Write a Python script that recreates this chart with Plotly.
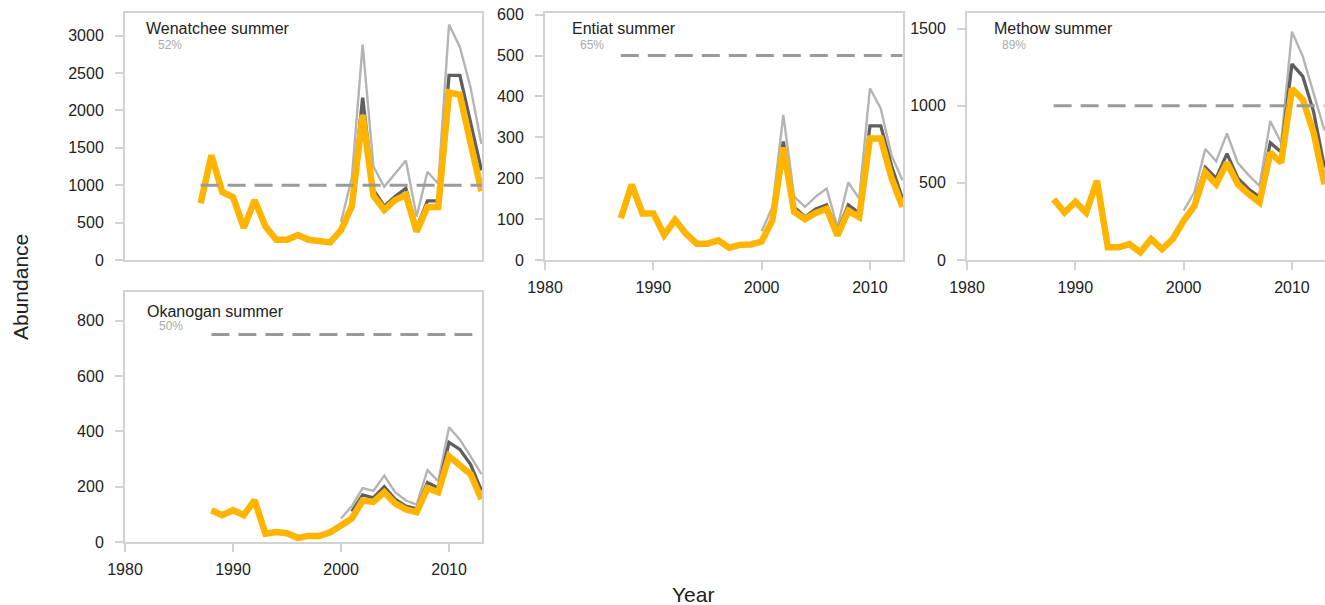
import plotly.graph_objects as go

# ---- data -------------------------------------------------------------
panel_names = ["Wenatchee summer", "Entiat summer", "Methow summer", "Okanogan summer"]
panel_pcts = ["52%", "65%", "89%", "50%"]

# observed abundance (orange), one list per population, with start year
wen_start = 1987
wen_obs = [760, 1400, 910, 840, 430, 800, 450, 270, 270, 335, 270, 260, 235, 400,
           720, 1940, 860, 670, 800, 870, 380, 710, 710, 2240, 2210, 1560, 920]
ent_start = 1987
ent_obs = [102, 184, 114, 114, 61, 98, 65, 40, 40, 48, 30, 37, 38, 45,
           98, 275, 118, 100, 115, 125, 60, 120, 105, 297, 297, 200, 130]
met_start = 1988
met_obs = [394, 308, 377, 308, 513, 82, 82, 103, 50, 136, 71, 136, 254,
           351, 567, 491, 631, 491, 427, 373, 696, 631, 1110, 1040, 825, 491]
oka_start = 1988
oka_obs = [115, 97, 115, 97, 151, 30, 36, 32, 15, 22, 22, 35, 60,
           85, 150, 145, 180, 140, 118, 108, 195, 180, 310, 280, 245, 155]

# adjusted estimate (dark grey), 2001-2013
mid_start = 2001
wen_mid = [780, 2170, 940, 720, 850, 960, 430, 790, 790, 2470, 2470, 1850, 1200]
ent_mid = [110, 290, 130, 105, 125, 135, 70, 135, 115, 328, 328, 230, 150]
met_mid = [380, 600, 530, 690, 530, 460, 410, 760, 700, 1270, 1190, 960, 600]
oka_mid = [110, 170, 160, 200, 155, 130, 120, 215, 195, 360, 335, 280, 185]

# upper estimate (light grey), 2000-2013
up_start = 2000
wen_up = [510, 1100, 2880, 1250, 980, 1150, 1330, 580, 1180, 1020, 3150, 2850, 2300, 1550]
ent_up = [70, 130, 355, 155, 130, 155, 175, 80, 190, 150, 420, 370, 255, 195]
met_up = [320, 440, 720, 640, 820, 630, 550, 480, 900, 760, 1480, 1320, 1080, 840]
oka_up = [85, 130, 195, 185, 240, 180, 150, 135, 260, 220, 415, 370, 310, 245]

# recovery targets and the year each target line starts
targets = [1000, 500, 1000, 750]
target_starts = [1987, 1987, 1988, 1988]

# axis settings
y_max = [3304, 604, 1601, 904]
y_ticks = [list(range(0, 3001, 500)), list(range(0, 601, 100)),
           list(range(0, 1501, 500)), list(range(0, 801, 200))]
x_ticks = [1980, 1990, 2000, 2010]

obs = [(wen_start, wen_obs), (ent_start, ent_obs), (met_start, met_obs), (oka_start, oka_obs)]
mids = [wen_mid, ent_mid, met_mid, oka_mid]
ups = [wen_up, ent_up, met_up, oka_up]

# ---- layout geometry (pixels) ---------------------------------------
W, H = 1325, 605
boxes = [  # left, right, top, bottom
    (125, 482, 13, 260),
    (545, 903, 13, 260),
    (967, 1325, 13, 260),
    (125, 482, 292, 542),
]
title_off = [(19, 29), (25, 29), (25, 29), (20, 311)]
pct_off = [(31, 45), (33, 45), (33, 45), (32, 326)]
show_xlabels = [False, True, True, True]

ORANGE = "#FFB400"
DARK = "#5f5f5f"
LIGHT = "#b4b4b4"
DASH = "#9a9a9a"
AXIS = "#d2d2d2"
FONT = "Liberation Sans, Arial, sans-serif"

fig = go.Figure()


def px_x(p):
    return p / W


def px_y(p):
    return 1 - p / H


for i in range(4):
    n = "" if i == 0 else str(i + 1)
    xa, ya = "x" + n, "y" + n

    up_years = list(range(up_start, up_start + len(ups[i])))
    mid_years = list(range(mid_start, mid_start + len(mids[i])))
    s, o = obs[i]
    obs_years = list(range(s, s + len(o)))

    fig.add_trace(go.Scatter(x=up_years, y=ups[i], mode="lines", xaxis=xa, yaxis=ya,
                             line=dict(color=LIGHT, width=2.4), showlegend=False,
                             hoverinfo="skip"))
    fig.add_trace(go.Scatter(x=mid_years, y=mids[i], mode="lines", xaxis=xa, yaxis=ya,
                             line=dict(color=DARK, width=3.3), showlegend=False,
                             hoverinfo="skip"))
    fig.add_trace(go.Scatter(x=obs_years, y=o, mode="lines", xaxis=xa, yaxis=ya,
                             line=dict(color=ORANGE, width=6.5), showlegend=False,
                             hoverinfo="skip"))
    fig.add_trace(go.Scatter(x=[target_starts[i], 2013], y=[targets[i], targets[i]],
                             mode="lines", xaxis=xa, yaxis=ya,
                             line=dict(color=DASH, width=3, dash="18px,9px"),
                             showlegend=False, hoverinfo="skip"))

    l, r, t, b = boxes[i]
    common = dict(showline=True, linecolor=AXIS, linewidth=2, mirror=True,
                  showgrid=False, zeroline=False, automargin=False,
                  tickfont=dict(family=FONT, size=16, color="#222222"))
    fig.layout["xaxis" + n] = dict(
        domain=[px_x(l), px_x(r)], anchor=ya, range=[1980, 2013.05],
        tickvals=x_ticks if show_xlabels[i] else [],
        ticks="outside" if show_xlabels[i] else "", ticklen=8, tickwidth=2,
        tickcolor=AXIS, showticklabels=show_xlabels[i], ticklabelstandoff=4,
        **common)
    fig.layout["yaxis" + n] = dict(
        domain=[px_y(b), px_y(t)], anchor=xa, range=[0, y_max[i]],
        tickvals=y_ticks[i], ticks="outside", ticklen=8, tickwidth=2,
        tickcolor=AXIS, ticklabelstandoff=8, **common)

    fig.add_annotation(text=panel_names[i], xref="paper", yref="paper",
                       x=px_x(l + title_off[i][0]), y=px_y(title_off[i][1]),
                       xanchor="left", yanchor="middle", showarrow=False,
                       font=dict(family=FONT, size=16, color="#222222"))
    fig.add_annotation(text=panel_pcts[i], xref="paper", yref="paper",
                       x=px_x(l + pct_off[i][0]), y=px_y(pct_off[i][1]),
                       xanchor="left", yanchor="middle", showarrow=False,
                       font=dict(family=FONT, size=12, color="#aaaaaa"))

fig.add_annotation(text="Abundance", xref="paper", yref="paper",
                   x=px_x(20), y=px_y(287), textangle=-90,
                   xanchor="center", yanchor="middle", showarrow=False,
                   font=dict(family=FONT, size=21, color="#222222"))
fig.add_annotation(text="Year", xref="paper", yref="paper",
                   x=px_x(693), y=px_y(594),
                   xanchor="center", yanchor="middle", showarrow=False,
                   font=dict(family=FONT, size=21, color="#222222"))

fig.update_layout(width=W, height=H, margin=dict(l=0, r=0, t=0, b=0, autoexpand=False),
                  paper_bgcolor="white", plot_bgcolor="white")

fig.write_html("out.html")
